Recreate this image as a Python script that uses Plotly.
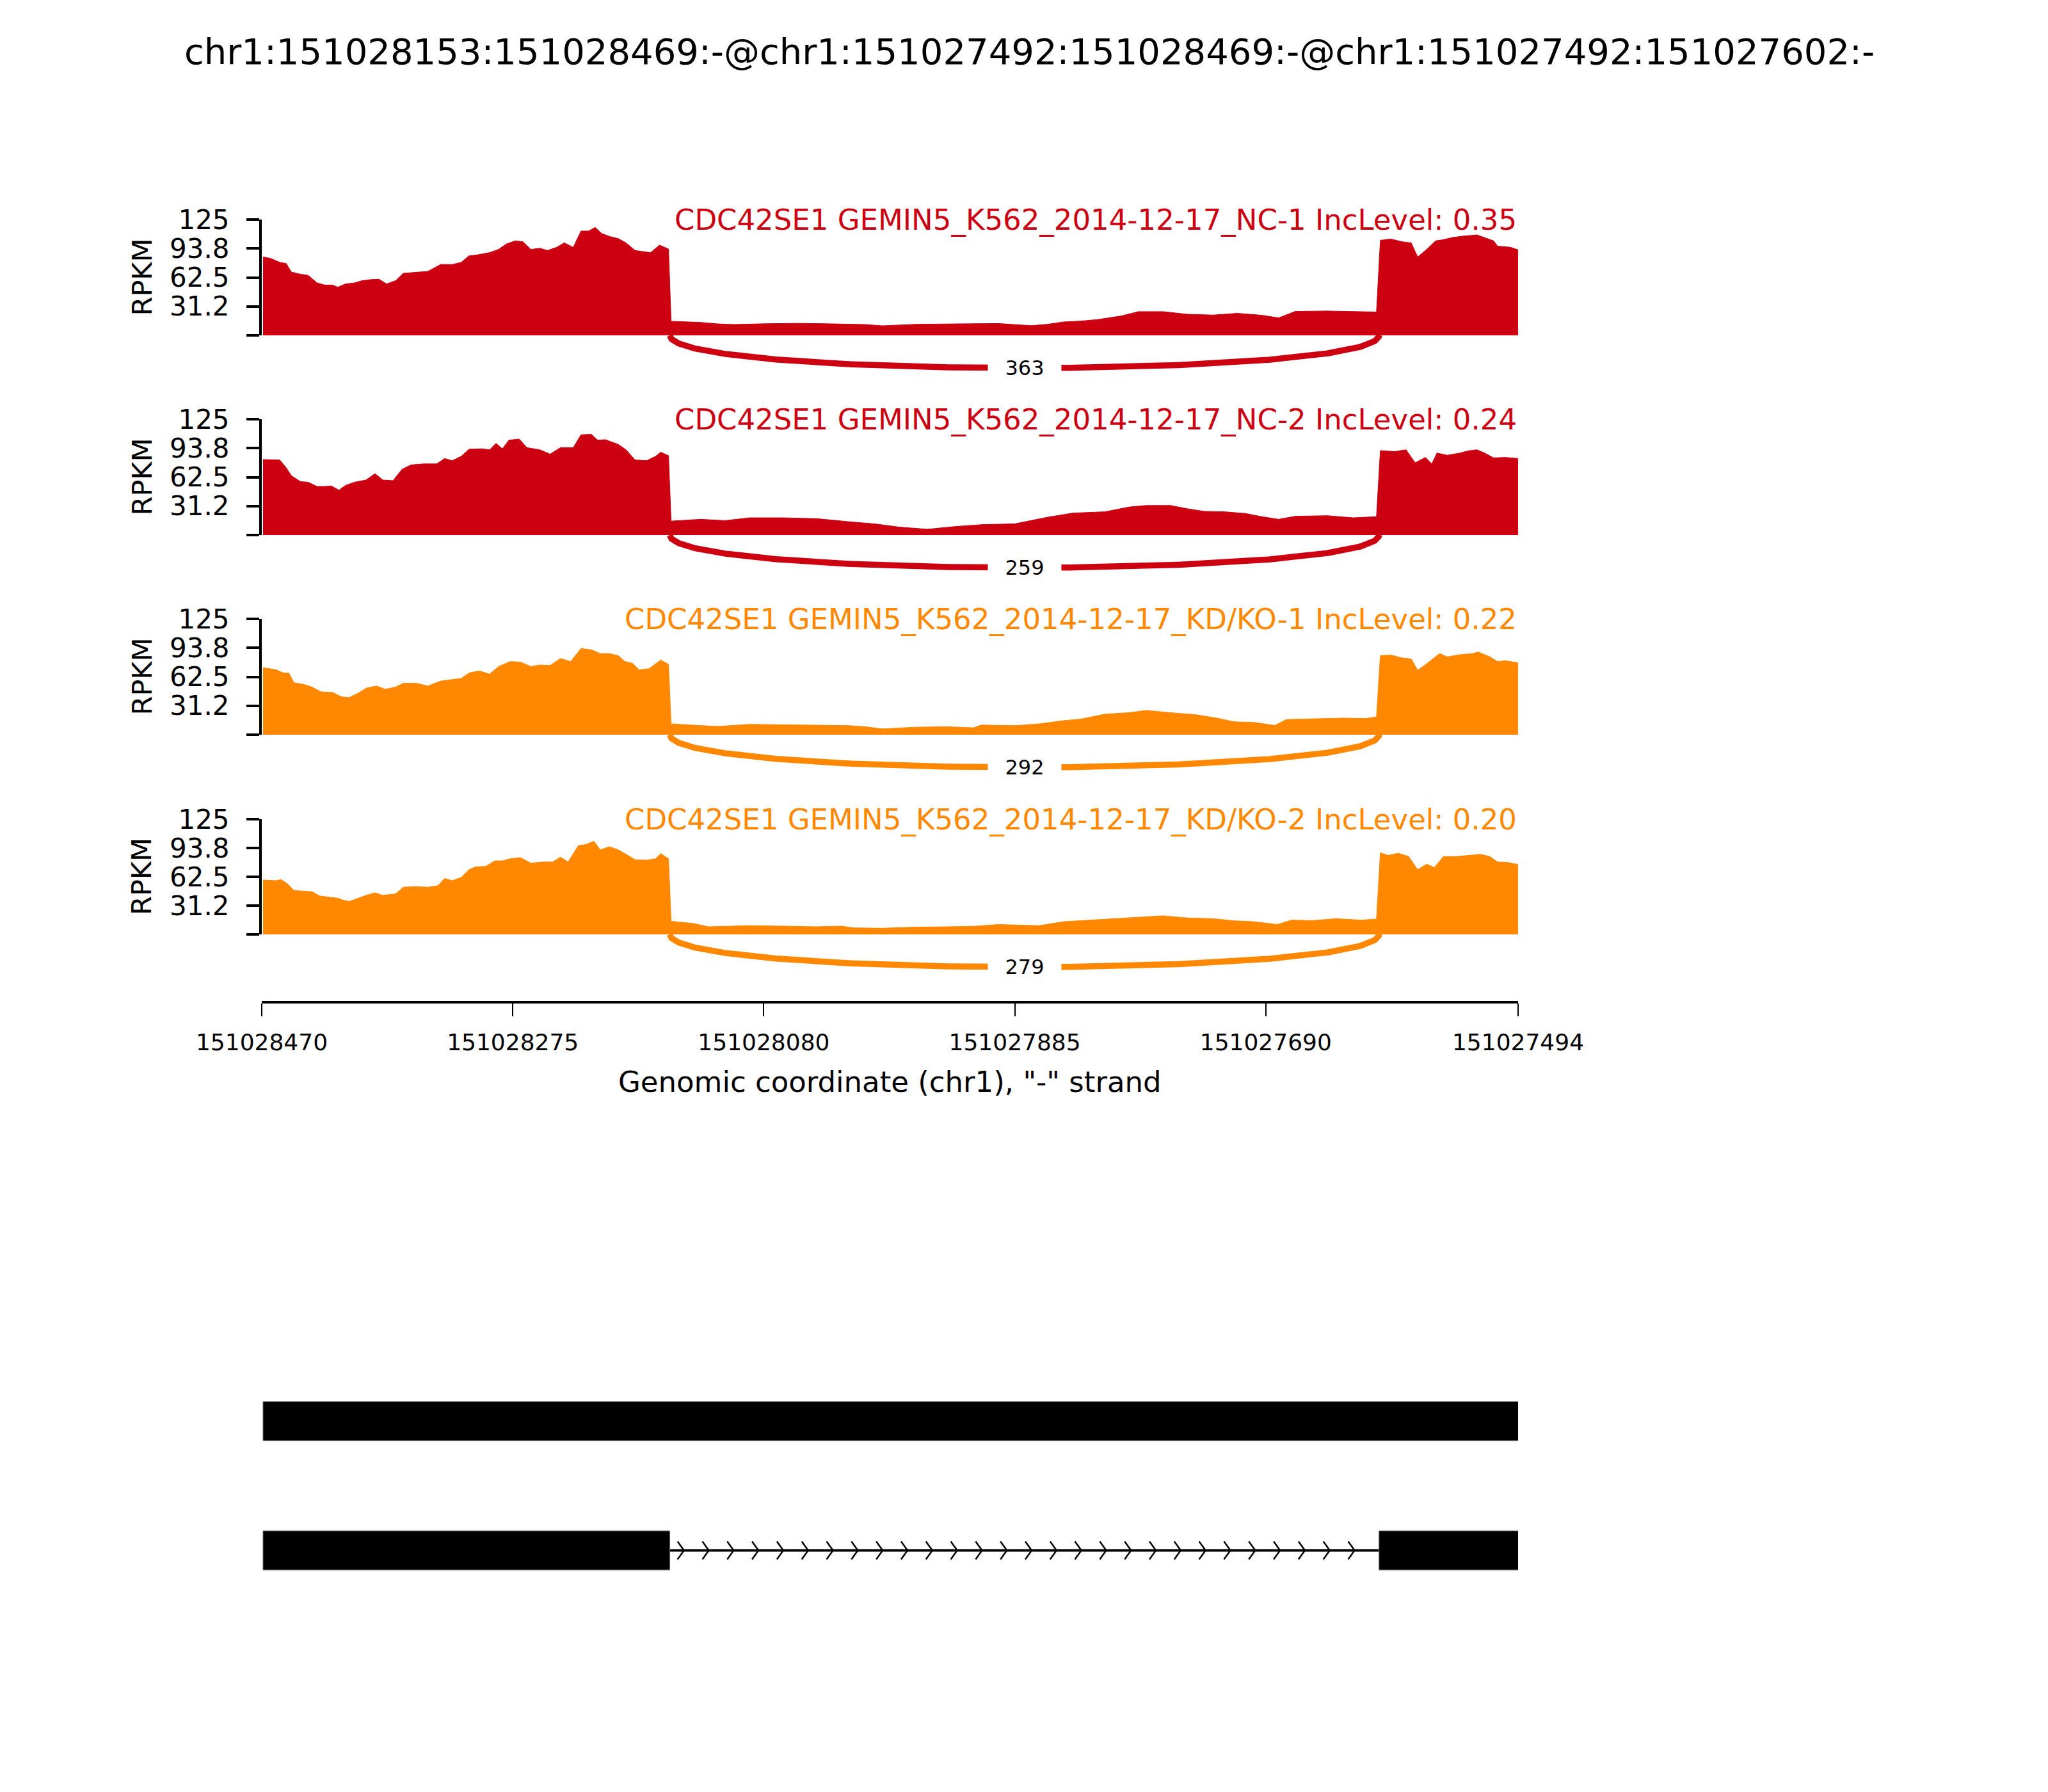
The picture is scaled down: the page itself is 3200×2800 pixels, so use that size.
import numpy as np
import plotly.graph_objects as go

W, H = 3200, 2800
START, END = 151028470, 151027494

title_text = "chr1:151028153:151028469:-@chr1:151027492:151028469:-@chr1:151027492:151027602:-"
sample_names = ["CDC42SE1 GEMIN5_K562_2014-12-17_NC-1",
                "CDC42SE1 GEMIN5_K562_2014-12-17_NC-2",
                "CDC42SE1 GEMIN5_K562_2014-12-17_KD/KO-1",
                "CDC42SE1 GEMIN5_K562_2014-12-17_KD/KO-2"]
inc_levels = ["0.35", "0.24", "0.22", "0.20"]
colors = ["#CC0011", "#CC0011", "#FF8800", "#FF8800"]
junction_counts = [363, 259, 292, 279]
junction_coords = (151028153, 151027602)

x_tickvals = [151028470, 151028275, 151028080, 151027885, 151027690, 151027494]
y_tickvals = [0, 31.25, 62.5, 93.75, 125]
y_ticktext = ["", "31.2", "62.5", "93.8", "125"]

# coverage: offsets (bp from 151028470, toward 3' on minus strand) and RPKM values
off_nc1 = [1, 7, 14, 19, 23, 30, 36, 43, 49, 55, 59, 65, 72, 78, 84, 91, 97, 104, 110, 120, 129, 139, 148, 155, 161,
           168, 177, 184, 190, 197, 203, 209, 216, 222, 229, 235, 242, 248, 254, 259, 264, 270, 277, 283, 290, 296,
           302, 309, 316,
           318, 328, 341, 354, 367, 392, 418, 444, 469, 482, 508, 540, 572, 598, 610, 623, 636, 649, 668, 681, 700,
           719, 739, 758, 777, 790, 803, 828, 854, 866,
           869, 877, 886, 893, 898, 905, 912, 918, 925, 934, 944, 950, 957, 960, 970, 976]
cov_nc1 = [84.6, 83.0, 78.8, 77.6, 68.3, 66.0, 64.8, 56.6, 54.3, 54.3, 52.0, 55.5, 56.6, 59.0, 60.1, 60.6, 55.5, 59.0,
           67.0, 68.3, 69.0, 76.5, 76.5, 78.8, 85.8, 87.0, 89.3, 92.8, 98.6, 102.0, 101.0, 92.8, 94.0, 91.6, 95.0,
           99.8, 95.0, 112.6, 112.6, 116.5, 110.0, 106.8, 104.4, 99.8, 91.6, 90.4, 89.3, 97.4, 93.2,
           15.2, 14.7, 14.0, 12.4, 11.7, 12.6, 13.0, 12.4, 11.7, 10.3, 11.9, 12.4, 12.8, 10.5, 11.9, 14.5, 15.4,
           17.0, 21.0, 25.6, 25.6, 22.8, 21.9, 23.8, 21.7, 18.9, 25.9, 26.3, 25.9, 25.2,
           102.6, 104.0, 101.0, 99.8, 84.6, 92.8, 102.0, 103.3, 105.6, 107.2, 108.4, 105.6, 102.0, 96.3, 95.1, 92.3]

off_nc2 = [1, 14, 19, 23, 30, 36, 43, 49, 54, 60, 65, 72, 81, 88, 94, 102, 109, 116, 126, 136, 142, 148, 155, 161,
           171, 177, 182, 187, 192, 200, 206, 216, 224, 232, 242, 248, 256, 261, 267, 277, 283, 290, 299, 306, 310,
           316,
           318, 341, 360, 379, 405, 431, 456, 476, 495, 517, 540, 559, 585, 610, 630, 655, 674, 687, 706, 719, 732,
           748, 764, 777, 790, 803, 828, 848, 866,
           869, 880, 889, 896, 904, 909, 913, 921, 931, 937, 944, 950, 957, 966, 976]
cov_nc2 = [81.5, 81.0, 72.6, 64.0, 57.7, 57.0, 52.4, 52.4, 53.0, 48.4, 53.5, 57.0, 59.4, 66.3, 59.4, 58.7, 71.0, 75.7,
           76.8, 76.8, 82.6, 80.3, 85.0, 92.6, 93.1, 92.0, 98.9, 93.1, 102.4, 103.6, 94.3, 92.0, 87.3, 94.3, 94.3,
           108.2, 108.7, 102.4, 102.9, 97.8, 92.0, 81.0, 80.3, 85.0, 89.4, 85.7,
           15.1, 17.0, 15.6, 18.6, 18.6, 17.7, 14.4, 12.1, 8.6, 6.3, 9.3, 11.2, 12.1, 19.1, 23.7, 25.1, 30.3, 31.9,
           31.9, 28.4, 25.6, 25.1, 23.3, 19.8, 17.0, 20.3, 20.9, 18.6, 19.8,
           91.2, 90.1, 92.0, 78.0, 83.8, 76.8, 88.5, 86.1, 88.5, 90.8, 92.0, 88.5, 83.3, 83.8, 82.6]

off_kd1 = [1, 11, 17, 21, 25, 33, 39, 46, 55, 62, 68, 75, 81, 89, 96, 104, 110, 120, 129, 139, 148, 155, 161, 169,
           177, 184, 193, 201, 209, 216, 224, 232, 240, 248, 256, 263, 270, 277, 282, 288, 293, 301, 310, 316,
           318, 341, 354, 379, 405, 431, 456, 469, 482, 508, 533, 553, 559, 585, 604, 623, 636, 655, 674, 687, 706,
           726, 742, 755, 771, 787, 796, 822, 841, 857, 866,
           869, 877, 886, 893, 898, 905, 915, 921, 931, 941, 945, 954, 960, 966, 976]
cov_kd1 = [72.4, 70.1, 66.6, 66.6, 56.1, 54.2, 51.4, 46.3, 45.6, 40.9, 40.2, 44.9, 50.2, 52.6, 49.1, 51.4, 55.6, 55.6,
           52.6, 57.9, 59.6, 60.7, 66.6, 68.9, 65.4, 73.6, 79.0, 78.3, 73.6, 75.2, 74.8, 82.2, 79.0, 93.0, 91.6,
           87.6, 87.6, 85.3, 79.0, 77.1, 70.1, 71.3, 80.6, 75.9,
           11.7, 10.0, 8.9, 11.2, 10.5, 10.3, 9.8, 8.6, 6.3, 8.2, 8.6, 7.5, 10.5, 9.8, 11.7, 15.2, 16.8, 22.2, 23.8,
           26.2, 23.8, 21.5, 18.0, 14.0, 13.3, 10.0, 16.4, 17.5, 18.0, 17.5, 19.2,
           85.3, 86.0, 82.9, 81.8, 69.6, 76.6, 87.6, 84.1, 86.4, 87.6, 89.3, 84.1, 79.0, 79.9, 77.6]

off_kd2 = [1, 11, 15, 20, 25, 33, 39, 45, 52, 59, 64, 68, 75, 81, 88, 94, 104, 110, 120, 129, 137, 142, 148, 155,
           161, 166, 174, 181, 187, 193, 201, 209, 219, 226, 232, 238, 246, 252, 258, 263, 270, 277, 283, 290, 299,
           306, 310, 316,
           318, 335, 347, 360, 379, 405, 431, 450, 460, 482, 508, 533, 553, 572, 604, 623, 642, 662, 681, 700, 719,
           739, 755, 771, 789, 800, 816, 835, 854, 866,
           869, 875, 883, 891, 898, 905, 911, 918, 928, 937, 947, 954, 960, 968, 976]
cov_kd2 = [59.0, 58.3, 59.5, 54.8, 47.6, 47.1, 46.4, 41.7, 40.5, 39.3, 36.9, 35.7, 39.3, 42.4, 45.2, 42.4, 44.0, 51.2,
           51.9, 51.2, 52.9, 60.7, 58.3, 61.9, 70.2, 73.3, 73.8, 79.8, 79.8, 82.1, 83.3, 77.4, 78.6, 78.6, 83.8, 78.6,
           96.4, 97.6, 101.2, 91.7, 95.2, 91.7, 86.9, 81.0, 80.5, 82.1, 87.6, 82.1,
           14.3, 11.9, 8.3, 8.8, 9.5, 9.0, 8.3, 9.0, 7.1, 6.7, 7.9, 8.3, 8.8, 10.7, 9.5, 13.8, 15.5, 17.1, 19.0,
           20.2, 17.9, 17.1, 14.8, 13.8, 10.7, 15.5, 15.0, 17.1, 15.5, 16.7,
           88.6, 85.7, 88.1, 84.5, 70.2, 76.2, 72.6, 84.5, 84.5, 85.7, 86.9, 84.5, 78.6, 78.1, 75.7]

offsets = [off_nc1, off_nc2, off_kd1, off_kd2]
coverages = [cov_nc1, cov_nc2, cov_kd1, cov_kd2]

transcripts = [
    [(151027492, 151028469)],
    [(151028153, 151028469), (151027492, 151027602)],
]

# ---------------- layout geometry (pixels) ----------------
X_L, X_R = 401, 2364
panel_top = [335, 647, 959, 1272]
panel_bot = [516, 828, 1140, 1452]
ARC_H = 80
AXIS_LINE_Y = 1556
STRUCT_TOP, STRUCT_BOT = 2100, 2540
ROW_PX = [2212.5, 2414.5]
BOX_HALF_PX = 30.5


def py(p):
    return 1 - p / H


def sfx(k):
    return "" if k == 1 else str(k)


xdom = [X_L / W, X_R / W]
FONT = "DejaVu Sans"

fig = go.Figure()
layout = dict(template="none", width=W, height=H, margin=dict(l=0, r=0, t=0, b=0, pad=0, autoexpand=False),
              paper_bgcolor="white", plot_bgcolor="white", showlegend=False,
              font=dict(family=FONT, color="black"))
annotations = []
shapes = []

h_ctrl = 0.85
for i in range(4):
    k = sfx(i + 1)
    ka = sfx(i + 5)
    xs = [START - o for o in offsets[i]]
    fig.add_trace(go.Scatter(x=xs, y=coverages[i], mode="lines", fill="tozeroy",
                             line=dict(color=colors[i], width=1), fillcolor=colors[i],
                             xaxis=f"x{k}", yaxis=f"y{k}", hoverinfo="skip"))
    layout[f"xaxis{k}"] = dict(domain=xdom, range=[START, END], visible=False, anchor=f"y{k}",
                               automargin=False)
    layout[f"yaxis{k}"] = dict(domain=[py(panel_bot[i]), py(panel_top[i])], range=[0, 125],
                               anchor=f"x{k}", tickvals=y_tickvals, ticktext=y_ticktext,
                               ticks="outside", ticklen=20, tickwidth=4, tickcolor="black",
                               showline=True, linewidth=4, linecolor="black", automargin=False,
                               showgrid=False, zeroline=False, ticklabelstandoff=18,
                               tickfont=dict(size=42, family=FONT))
    # junction arc
    x1, x2 = junction_coords
    t = np.linspace(0, 1, 300)
    bx = (1 - t) ** 3 * x1 + 3 * (1 - t) ** 2 * t * x1 + 3 * (1 - t) * t ** 2 * x2 + t ** 3 * x2
    by = -h_ctrl * (3 * (1 - t) ** 2 * t + 3 * (1 - t) * t ** 2)
    fig.add_trace(go.Scatter(x=bx, y=by, mode="lines", line=dict(color=colors[i], width=9.5),
                             xaxis=f"x{ka}", yaxis=f"y{ka}", hoverinfo="skip"))
    layout[f"xaxis{ka}"] = dict(domain=xdom, range=[START, END], visible=False, anchor=f"y{ka}",
                                automargin=False)
    layout[f"yaxis{ka}"] = dict(domain=[py(panel_bot[i] + ARC_H), py(panel_bot[i])], range=[-1, 0],
                                visible=False, anchor=f"x{ka}", automargin=False)
    annotations.append(dict(x=(x1 + x2) / 2, y=-0.75 * h_ctrl, xref=f"x{ka}", yref=f"y{ka}",
                            xanchor="center", yanchor="middle",
                            text=str(junction_counts[i]), showarrow=False, bgcolor="white",
                            width=100, borderpad=7, font=dict(size=32, family=FONT, color="black")))
    # sample label
    annotations.append(dict(x=1, y=1, xref=f"x{k} domain", yref=f"y{k} domain", xanchor="right",
                            yanchor="middle", showarrow=False,
                            text=f"{sample_names[i]} IncLevel: {inc_levels[i]}",
                            font=dict(size=45, family=FONT, color=colors[i])))
    # RPKM label
    annotations.append(dict(x=213 / W, y=py((panel_top[i] + panel_bot[i]) / 2), xref="paper", yref="paper",
                            xanchor="center", yanchor="middle",
                            text="RPKM", textangle=-90, showarrow=False,
                            font=dict(size=43, family=FONT, color="black")))

# bottom genomic coordinate axis
layout["xaxis9"] = dict(domain=xdom, range=[START, END], anchor="y9", side="bottom",
                        showline=True, linewidth=4, linecolor="black", ticks="outside",
                        ticklen=20, tickwidth=2, tickcolor="black", tickvals=x_tickvals,
                        ticktext=[str(v) for v in x_tickvals], showgrid=False, zeroline=False,
                        ticklabelstandoff=10, tickfont=dict(size=36, family=FONT), automargin=False)
layout["yaxis9"] = dict(domain=[py(AXIS_LINE_Y), py(AXIS_LINE_Y - 40)], visible=False, anchor="x9",
                        range=[0, 1], automargin=False)
fig.add_trace(go.Scatter(x=[START, END], y=[None, None], xaxis="x9", yaxis="y9", mode="lines",
                         hoverinfo="skip"))
annotations.append(dict(x=(X_L + X_R) / 2 / W, y=py(1682), xref="paper", yref="paper",
                        xanchor="center", yanchor="middle",
                        text='Genomic coordinate (chr1), "-" strand', showarrow=False,
                        font=dict(size=45, family=FONT)))

# title
annotations.append(dict(x=0.5, y=py(73), xref="paper", yref="paper", text=title_text,
                        xanchor="center", yanchor="middle",
                        showarrow=False, font=dict(size=56, family=FONT)))

# transcript structures
unit = ROW_PX[1] - ROW_PX[0]  # px per row unit
y_lo = -(STRUCT_BOT - ROW_PX[1]) / unit
y_hi = 1 + (ROW_PX[0] - STRUCT_TOP) / unit
layout["xaxis10"] = dict(domain=xdom, range=[START, END], visible=False, anchor="y10", automargin=False)
layout["yaxis10"] = dict(domain=[py(STRUCT_BOT), py(STRUCT_TOP)], range=[y_lo, y_hi], visible=False,
                         anchor="x10", automargin=False)
half = BOX_HALF_PX / unit
chev_h = 14 / unit
chev_w = 5
n_rows = len(transcripts)
cx, cy = [], []
for r, exons in enumerate(transcripts):
    yrow = n_rows - 1 - r
    for (a, b) in exons:
        shapes.append(dict(type="rect", xref="x10", yref="y10", x0=b, x1=a, y0=yrow - half, y1=yrow + half,
                           fillcolor="black", line=dict(color="#666666", width=1), layer="above"))
    ex_sorted = sorted(exons, key=lambda e: -e[1])
    for e1, e2 in zip(ex_sorted[:-1], ex_sorted[1:]):
        hi, lo = e1[0], e2[1]
        shapes.append(dict(type="line", xref="x10", yref="y10", x0=hi, x1=lo, y0=yrow, y1=yrow,
                           line=dict(color="black", width=4), layer="below"))
        tips = np.linspace(hi - 11, lo + 19, 28)
        for tp in tips:
            cx += [tp + chev_w, tp, tp + chev_w, None]
            cy += [yrow + chev_h, yrow, yrow - chev_h, None]
fig.add_trace(go.Scatter(x=cx, y=cy, mode="lines", line=dict(color="black", width=2.5),
                         xaxis="x10", yaxis="y10", hoverinfo="skip"))

layout["annotations"] = annotations
layout["shapes"] = shapes
fig.update_layout(**layout)
fig.write_html("out.html")
